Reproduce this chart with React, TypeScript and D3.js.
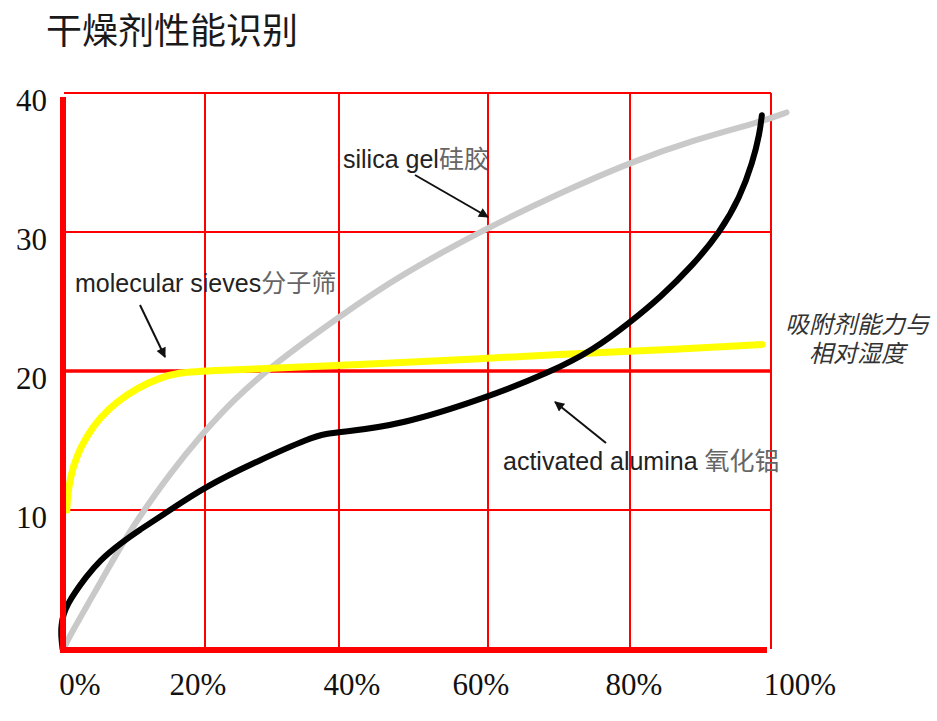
import React, { useEffect, useRef } from 'react';
import * as d3 from 'd3';

type Pt = [number, number];

// relative humidity (%) vs adsorption capacity
const silicaGel: Pt[] = [
    [0, 0.1], [1.1, 1.2], [3.7, 3.5], [6.5, 6.0], [8.9, 8.1], [11.1, 9.8], [15.0, 12.6],
    [19.3, 15.3], [24.2, 17.9], [30.0, 20.4], [40, 23.9], [48.2, 26.9], [59.9, 30.3],
    [70.1, 32.8], [80, 35.0], [88.9, 36.6], [98.4, 37.9], [102.2, 38.6],
];

const molecularSieves: Pt[] = [
    [0.4, 10.0], [0.5, 11.0], [0.9, 12.4], [1.8, 13.9], [3.2, 15.3], [5.0, 16.6],
    [7.5, 17.8], [10.5, 18.8], [13.5, 19.5], [16.5, 19.9], [20, 20.0], [40, 20.4], [60, 20.9],
    [70, 21.2], [80, 21.4], [98.7, 21.9],
];

const activatedAlumina: Pt[] = [
    [-0.2, 0], [-0.4, 0.8], [-0.4, 1.7], [-0.1, 2.5], [0.6, 3.3], [1.6, 4.1], [3.0, 5.1], [5.1, 6.4],
    [8.0, 7.6], [10.8, 8.6], [13.6, 9.5], [20, 11.7], [28.2, 13.6], [35.7, 15.2], [38.2, 15.5],
    [40.1, 15.6], [48.2, 16.1], [59.9, 18.1], [68.7, 19.9], [74.8, 21.5], [80, 23.5],
    [84.3, 25.3], [88.9, 27.6], [92.8, 30.0], [95.6, 32.5], [97.4, 35.0], [98.4, 37.1],
    [98.7, 38.4],
];

const xTicks = [0, 20, 40, 60, 80, 100];
const yTicks = [10, 20, 30, 40];

const title = "干燥剂性能识别";
const sideLabel = ["吸附剂能力与", "相对湿度"];

const DesiccantChart: React.FC = () => {
    const svgRef = useRef<SVGSVGElement>(null);

    useEffect(() => {
        if (!svgRef.current) return;
        const svg = d3.select(svgRef.current);
        svg.selectAll("*").remove();

        const x = d3.scaleLinear()
            .domain(xTicks)
            .range([64, 205, 339, 488, 630, 771]);
        const y = d3.scaleLinear().domain([0, 40]).range([649, 93]);

        svg.append("rect").attr("width", 937).attr("height", 721).attr("fill", "#fff");

        // title
        svg.append("text")
            .attr("x", 46).attr("y", 44)
            .attr("font-family", "'Noto Sans CJK SC', sans-serif")
            .attr("font-size", 36)
            .attr("fill", "#1a1a1a")
            .text(title);

        // grid
        const grid = svg.append("g").attr("stroke", "#ff0000").attr("fill", "none");
        grid.selectAll("line.h")
            .data(yTicks)
            .join("line")
            .attr("class", "h")
            .attr("x1", x(0)).attr("x2", x(100))
            .attr("y1", d => y(d)).attr("y2", d => y(d))
            .attr("stroke-width", d => d === 20 ? 3.5 : 2);
        grid.selectAll("line.v")
            .data(xTicks.slice(1))
            .join("line")
            .attr("class", "v")
            .attr("x1", d => x(d)).attr("x2", d => x(d))
            .attr("y1", y(40)).attr("y2", y(0))
            .attr("stroke-width", 2);

        // curves
        const line = d3.line<Pt>()
            .x(d => x(d[0]))
            .y(d => y(d[1]))
            .curve(d3.curveBasis);

        const series = [
            { data: silicaGel, color: "#c9c9c9", width: 6 },
            { data: molecularSieves, color: "#ffff00", width: 7 },
            { data: activatedAlumina, color: "#000000", width: 6 },
        ];
        svg.append("g")
            .selectAll("path")
            .data(series)
            .join("path")
            .attr("d", d => line(d.data))
            .attr("fill", "none")
            .attr("stroke", d => d.color)
            .attr("stroke-width", d => d.width)
            .attr("stroke-linecap", "round")
            .attr("stroke-linejoin", "round");

        // thick axes
        svg.append("line")
            .attr("x1", x(0) - 1).attr("x2", x(0) - 1)
            .attr("y1", y(40) + 4).attr("y2", y(0) + 3)
            .attr("stroke", "#ff0000").attr("stroke-width", 6);
        svg.append("line")
            .attr("x1", x(0) - 4).attr("x2", x(100) - 4)
            .attr("y1", y(0) + 1).attr("y2", y(0) + 1)
            .attr("stroke", "#ff0000").attr("stroke-width", 6);

        // tick labels
        const serif = "'Liberation Serif', 'Times New Roman', serif";
        svg.append("g")
            .selectAll("text")
            .data(yTicks)
            .join("text")
            .attr("x", 47)
            .attr("y", d => y(d) + 18)
            .attr("text-anchor", "end")
            .attr("font-family", serif)
            .attr("font-size", 31)
            .attr("fill", "#111")
            .text(d => d);

        const xNudge = [16, -7, 13, -7, 4, 29];
        svg.append("g")
            .selectAll("text")
            .data(xTicks)
            .join("text")
            .attr("x", (d, i) => x(d) + xNudge[i])
            .attr("y", 695)
            .attr("text-anchor", "middle")
            .attr("font-family", serif)
            .attr("font-size", 31)
            .attr("fill", "#111")
            .text(d => `${d}%`);

        // annotations
        const defs = svg.append("defs");
        defs.append("marker")
            .attr("id", "arrow")
            .attr("viewBox", "0 0 10 10")
            .attr("refX", 9).attr("refY", 5)
            .attr("markerWidth", 6).attr("markerHeight", 5)
            .attr("orient", "auto")
            .append("path")
            .attr("d", "M0,0L10,5L0,10z")
            .attr("fill", "#111");

        const notes = [
            { en: "silica gel", zh: "硅胶", tx: 343, ty: 168, from: [415, 175], to: [488, 217] },
            { en: "molecular sieves", zh: "分子筛", tx: 75, ty: 292, from: [140, 305], to: [165, 357] },
            { en: "activated alumina ", zh: "氧化铝", tx: 503, ty: 470, from: [606, 443], to: [555, 402] },
        ];
        notes.forEach(n => {
            const t = svg.append("text")
                .attr("x", n.tx).attr("y", n.ty)
                .attr("font-family", "'Liberation Sans', Arial, 'Noto Sans CJK SC', sans-serif")
                .attr("font-size", 25)
                .attr("fill", "#222");
            t.append("tspan").text(n.en);
            t.append("tspan").attr("fill", "#666").text(n.zh);
            svg.append("line")
                .attr("x1", n.from[0]).attr("y1", n.from[1])
                .attr("x2", n.to[0]).attr("y2", n.to[1])
                .attr("stroke", "#111").attr("stroke-width", 2)
                .attr("marker-end", "url(#arrow)");
        });

        // side label
        svg.append("g")
            .selectAll("text")
            .data(sideLabel)
            .join("text")
            .attr("x", 857)
            .attr("y", (d, i) => 333 + i * 29)
            .attr("text-anchor", "middle")
            .attr("font-family", "'Noto Sans CJK SC', sans-serif")
            .attr("font-style", "italic")
            .attr("font-size", 24)
            .attr("fill", "#333")
            .text(d => d);
    }, []);

    return <svg ref={svgRef} width={937} height={721} style={{ position: 'absolute', left: 0, top: 0 }} />;
};

export default function App() {
    return <DesiccantChart />;
}
